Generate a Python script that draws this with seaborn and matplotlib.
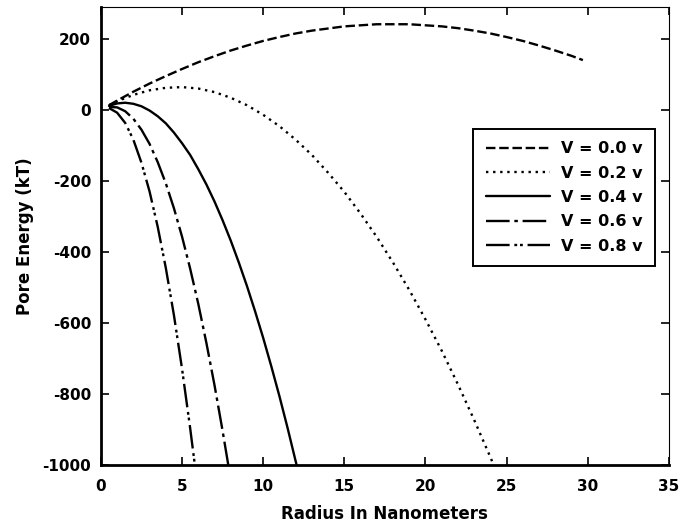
import pandas as pd
import matplotlib.pyplot as plt
import seaborn as sns

# values
r_v00 = [0.5, 1, 2, 3, 4, 5, 6, 7, 8, 9, 10, 11, 12, 13, 14, 15, 16, 17, 18, 19,
         20, 21, 22, 23, 24, 25, 26, 27, 28, 29, 29.7]
e_v00 = [13, 26, 51, 74, 95, 115, 134, 151, 167, 181, 194, 205, 215, 223, 229, 235,
         238, 241, 241, 241, 238, 235, 230, 223, 215, 205, 194, 181, 167, 152, 140]

r_v02 = [0.5, 1, 2, 3, 4, 5, 6, 7, 8, 9, 10, 11, 12, 13, 14, 15, 16, 17, 18, 19,
         20, 21, 22, 23, 24, 24.2]
e_v02 = [13, 24, 42, 55, 62, 64, 60, 50, 34, 13, -14, -46, -84, -127, -177, -231,
         -292, -358, -430, -507, -590, -678, -773, -873, -978, -1000]

r_v04 = [0.5, 1, 1.5, 2, 2.5, 3, 3.5, 4, 4.5, 5, 5.5, 6, 6.5, 7, 7.5, 8, 8.5, 9,
         9.5, 10, 10.5, 11, 11.5, 12, 12.06]
e_v04 = [11, 18, 20, 17, 10, -2, -18, -38, -64, -94, -127, -167, -210, -258, -311,
         -368, -430, -496, -567, -642, -722, -806, -895, -989, -1000]

r_v06 = [0.5, 1, 1.5, 2, 2.5, 3, 3.5, 4, 4.5, 5, 5.5, 6, 6.5, 7, 7.5, 7.85]
e_v06 = [8, 7, -4, -25, -56, -96, -147, -207, -277, -357, -447, -546, -656, -775, -904, -1000]

r_v08 = [0.5, 1, 1.5, 2, 2.5, 3, 3.5, 4, 4.5, 5, 5.5, 5.79]
e_v08 = [5, -8, -37, -84, -149, -230, -329, -445, -578, -729, -896, -1000]

labels = ["V = 0.0 v", "V = 0.2 v", "V = 0.4 v", "V = 0.6 v", "V = 0.8 v"]
radii = [r_v00, r_v02, r_v04, r_v06, r_v08]
energies = [e_v00, e_v02, e_v04, e_v06, e_v08]

frames = []
for lab, r, e in zip(labels, radii, energies):
    frames.append(pd.DataFrame({"radius": r, "energy": e, "voltage": lab}))
df = pd.concat(frames, ignore_index=True)

sns.set_style("ticks")
plt.rcParams["font.family"] = ["DejaVu Sans"]
plt.rcParams["font.weight"] = "bold"
plt.rcParams["axes.unicode_minus"] = False
plt.rcParams["text.color"] = "black"
plt.rcParams["axes.labelcolor"] = "black"
plt.rcParams["xtick.color"] = "black"
plt.rcParams["ytick.color"] = "black"
plt.rcParams["axes.edgecolor"] = "black"

dashes = {
    "V = 0.0 v": (4, 1.6),
    "V = 0.2 v": (1, 2),
    "V = 0.4 v": "",
    "V = 0.6 v": (10, 2, 1.5, 2),
    "V = 0.8 v": (10, 2, 1.2, 1.2, 1.2, 2),
}

fig = plt.figure(figsize=(6.91, 5.26), dpi=100)
ax = fig.add_axes([0.146, 0.116, 0.822, 0.871])

sns.lineplot(data=df, x="radius", y="energy", style="voltage", dashes=dashes,
             color="black", linewidth=1.7, sort=False, estimator=None,
             legend=False, ax=ax)

ax.set_xlim(0, 35)
ax.set_ylim(-1000, 290)
ax.set_xticks(range(0, 36, 5))
ax.set_yticks(range(-1000, 201, 200))
ax.set_xlabel("Radius In Nanometers", fontsize=12, fontweight="bold", labelpad=8)
ax.set_ylabel("Pore Energy (kT)", fontsize=12, fontweight="bold", labelpad=6)

ax.tick_params(direction="in", top=True, right=True, length=6, width=1.2,
               labelsize=11, pad=7)
ax.tick_params(axis="x", pad=10)
for lab in ax.get_xticklabels() + ax.get_yticklabels():
    lab.set_fontweight("bold")

ax.spines["left"].set_linewidth(2)
ax.spines["bottom"].set_linewidth(2)
ax.spines["top"].set_linewidth(0.8)
ax.spines["right"].set_linewidth(0.8)

leg = ax.legend(ax.lines, labels, loc="upper left", bbox_to_anchor=(0.655, 0.734),
                fancybox=False, framealpha=1, edgecolor="black", fontsize=11.5,
                handlelength=4.0, labelspacing=0.58, borderpad=0.8,
                handletextpad=0.7, borderaxespad=0)
leg.get_frame().set_linewidth(1.4)
for t in leg.get_texts():
    t.set_fontweight("bold")

fig.savefig("out.png", dpi=100)
